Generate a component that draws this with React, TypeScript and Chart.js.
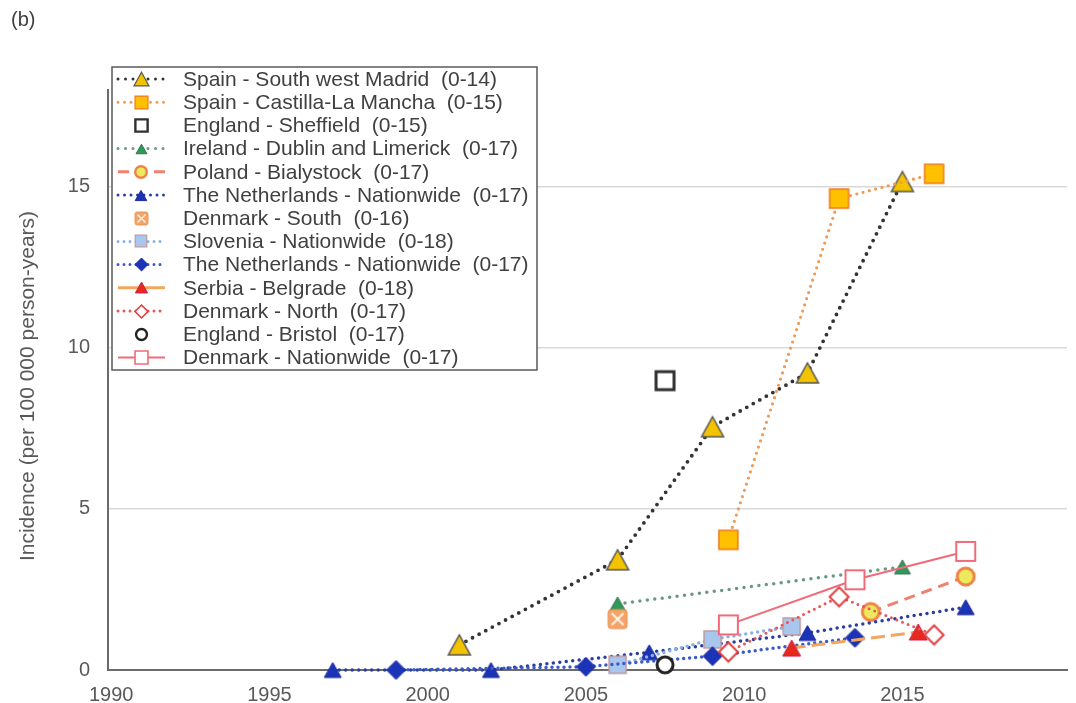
import React, { useEffect, useRef } from 'react';
import { Chart, registerables } from 'chart.js';

Chart.register(...registerables);

const FONT = '"Liberation Sans", Arial, Helvetica, sans-serif';

// Incidence per 100 000 person-years, by calendar year of each study
const madridYears = [2001, 2006, 2009, 2012, 2015];
const madridRates = [0.78, 3.42, 7.55, 9.22, 15.16];

const castillaYears = [2009.5, 2013, 2016];
const castillaRates = [4.04, 14.63, 15.4];

const sheffieldYears = [2007.5];
const sheffieldRates = [8.98];

const irelandYears = [2006, 2015];
const irelandRates = [2.05, 3.2];

const polandYears = [2014, 2017];
const polandRates = [1.8, 2.9];

const nlTriYears = [1997, 2002, 2007, 2012, 2017];
const nlTriRates = [0, 0, 0.55, 1.15, 1.95];

const dkSouthYears = [2006];
const dkSouthRates = [1.58];

const sloveniaYears = [2006, 2009, 2011.5];
const sloveniaRates = [0.16, 0.95, 1.35];

const nlDiaYears = [1999, 2005, 2009, 2013.5];
const nlDiaRates = [0, 0.1, 0.43, 1.0];

const serbiaYears = [2011.5, 2015.5];
const serbiaRates = [0.68, 1.18];

const dkNorthYears = [2009.5, 2013, 2016];
const dkNorthRates = [0.56, 2.27, 1.09];

const bristolYears = [2007.5];
const bristolRates = [0.16];

const dkNatYears = [2009.5, 2013.5, 2017];
const dkNatRates = [1.4, 2.8, 3.68];

const seriesLabels = [
  'Spain - South west Madrid  (0-14)',
  'Spain - Castilla-La Mancha  (0-15)',
  'England - Sheffield  (0-15)',
  'Ireland - Dublin and Limerick  (0-17)',
  'Poland - Bialystock  (0-17)',
  'The Netherlands - Nationwide  (0-17)',
  'Denmark - South  (0-16)',
  'Slovenia - Nationwide  (0-18)',
  'The Netherlands - Nationwide  (0-17)',
  'Serbia - Belgrade  (0-18)',
  'Denmark - North  (0-17)',
  'England - Bristol  (0-17)',
  'Denmark - Nationwide  (0-17)',
];

const seriesYears = [
  madridYears, castillaYears, sheffieldYears, irelandYears, polandYears, nlTriYears,
  dkSouthYears, sloveniaYears, nlDiaYears, serbiaYears, dkNorthYears, bristolYears, dkNatYears,
];
const seriesRates = [
  madridRates, castillaRates, sheffieldRates, irelandRates, polandRates, nlTriRates,
  dkSouthRates, sloveniaRates, nlDiaRates, serbiaRates, dkNorthRates, bristolRates, dkNatRates,
];

const xTickValues = [1990, 1995, 2000, 2005, 2010, 2015];
const yTickValues = [0, 5, 10, 15];
const yTitle = 'Incidence (per 100 000 person-years)';
const panelTag = '(b)';

type Shape = 'triangle' | 'square' | 'diamond' | 'circle' | 'boxX';
interface MarkerSpec { shape: Shape; w: number; h: number; fill: string; stroke: string; lw: number; }
interface LineSpec { color: string; width: number; dash: number[]; cap: CanvasLineCap; legendDash?: number[]; }

const markerSpecs: MarkerSpec[] = [
  { shape: 'triangle', w: 22, h: 20, fill: '#f4c300', stroke: '#555555', lw: 1.5 },
  { shape: 'square', w: 19, h: 19, fill: '#ffc000', stroke: '#f07a1e', lw: 1.5 },
  { shape: 'square', w: 18, h: 18, fill: '#ffffff', stroke: '#303030', lw: 3 },
  { shape: 'triangle', w: 16, h: 14, fill: '#2e9a5c', stroke: '#3d6e52', lw: 1 },
  { shape: 'circle', w: 17, h: 17, fill: '#ecea5c', stroke: '#f08248', lw: 3 },
  { shape: 'triangle', w: 17, h: 15, fill: '#1b33b6', stroke: '#1b2a9a', lw: 1 },
  { shape: 'boxX', w: 19, h: 19, fill: '#f4a469', stroke: '#ec9455', lw: 1 },
  { shape: 'square', w: 17, h: 17, fill: '#a9c7ee', stroke: '#c09aa0', lw: 1.5 },
  { shape: 'diamond', w: 19, h: 19, fill: '#1b33b6', stroke: '#1b2a9a', lw: 1 },
  { shape: 'triangle', w: 18, h: 16, fill: '#e8281e', stroke: '#c4204a', lw: 1 },
  { shape: 'diamond', w: 19, h: 19, fill: '#ffffff', stroke: '#e23c3c', lw: 2 },
  { shape: 'circle', w: 16, h: 16, fill: '#ffffff', stroke: '#222222', lw: 3 },
  { shape: 'square', w: 19, h: 19, fill: '#ffffff', stroke: '#f26a78', lw: 2 },
];

const lineSpecs: (LineSpec | null)[] = [
  { color: '#333333', width: 3.8, dash: [0, 7.5], cap: 'round' },
  { color: '#f39a52', width: 3.2, dash: [0, 6.5], cap: 'round' },
  null,
  { color: '#6a9884', width: 3.5, dash: [0, 7.5], cap: 'round' },
  { color: '#f08070', width: 3, dash: [11, 7], cap: 'butt' },
  { color: '#2b3d9e', width: 3.5, dash: [0, 6.5], cap: 'round' },
  null,
  { color: '#8db0e4', width: 3.5, dash: [0, 6], cap: 'round' },
  { color: '#3b5bc4', width: 3.5, dash: [0, 6], cap: 'round' },
  { color: '#f2a65e', width: 3, dash: [14, 6], cap: 'butt', legendDash: [] },
  { color: '#e4575a', width: 3, dash: [0, 6], cap: 'round' },
  null,
  { color: '#f06a78', width: 2, dash: [], cap: 'butt' },
];

function makeMarker(spec: MarkerSpec, scale: number): HTMLCanvasElement {
  const w = spec.w * scale;
  const h = spec.h * scale;
  const lw = Math.max(1, spec.lw * (scale < 1 ? 0.8 : 1));
  const pad = Math.ceil(lw * 1.5) + 1;
  const cw = Math.ceil(w) + pad * 2;
  const ch = Math.ceil(h) + pad * 2;
  const c = document.createElement('canvas');
  c.width = cw;
  c.height = ch;
  const g = c.getContext('2d')!;
  const cx = cw / 2;
  const cy = ch / 2;
  g.beginPath();
  switch (spec.shape) {
    case 'triangle':
      g.moveTo(cx, cy - h / 2);
      g.lineTo(cx + w / 2, cy + h / 2);
      g.lineTo(cx - w / 2, cy + h / 2);
      g.closePath();
      break;
    case 'square':
      g.rect(cx - w / 2, cy - h / 2, w, h);
      break;
    case 'diamond':
      g.moveTo(cx, cy - h / 2);
      g.lineTo(cx + w / 2, cy);
      g.lineTo(cx, cy + h / 2);
      g.lineTo(cx - w / 2, cy);
      g.closePath();
      break;
    case 'circle':
      g.arc(cx, cy, w / 2, 0, Math.PI * 2);
      break;
    case 'boxX': {
      const r = 3 * scale;
      const l = cx - w / 2, t = cy - h / 2, rr = cx + w / 2, b = cy + h / 2;
      g.moveTo(l + r, t);
      g.lineTo(rr - r, t);
      g.arcTo(rr, t, rr, t + r, r);
      g.lineTo(rr, b - r);
      g.arcTo(rr, b, rr - r, b, r);
      g.lineTo(l + r, b);
      g.arcTo(l, b, l, b - r, r);
      g.lineTo(l, t + r);
      g.arcTo(l, t, l + r, t, r);
      g.closePath();
      break;
    }
  }
  g.fillStyle = spec.fill;
  g.fill();
  g.lineWidth = lw;
  g.strokeStyle = spec.stroke;
  g.lineJoin = 'miter';
  g.stroke();
  if (spec.shape === 'boxX') {
    const d = w * 0.28;
    g.beginPath();
    g.moveTo(cx - d, cy - d);
    g.lineTo(cx + d, cy + d);
    g.moveTo(cx + d, cy - d);
    g.lineTo(cx - d, cy + d);
    g.strokeStyle = '#fff3e8';
    g.lineWidth = 2 * Math.max(scale, 0.7);
    g.lineCap = 'round';
    g.stroke();
  }
  return c;
}

export default function App() {
  const canvasRef = useRef<HTMLCanvasElement>(null);

  useEffect(() => {
    const canvas = canvasRef.current;
    if (!canvas) return;

    const plotMarkers = markerSpecs.map((s) => makeMarker(s, 1));
    const legendMarkers = markerSpecs.map((s) => makeMarker(s, 0.68));

    const datasets = seriesLabels.map((label, i) => {
      const line = lineSpecs[i];
      const xs = seriesYears[i];
      const ys = seriesRates[i];
      return {
        label,
        data: xs.map((x, k) => ({ x, y: ys[k] })),
        showLine: !!line,
        borderColor: line ? line.color : 'rgba(0,0,0,0)',
        borderWidth: line ? line.width : 0,
        borderDash: line ? line.dash : [],
        borderCapStyle: line ? line.cap : 'butt',
        pointStyle: plotMarkers[i],
        pointRadius: 9,
        pointHoverRadius: 9,
        pointBorderWidth: 0,
        tension: 0,
        clip: false,
        order: seriesLabels.length - i,
      };
    });

    const decorations = {
      id: 'decorations',
      afterDraw(chart: Chart) {
        const ctx = chart.ctx;
        ctx.save();

        // panel tag
        ctx.fillStyle = '#404040';
        ctx.font = `20px ${FONT}`;
        ctx.textAlign = 'left';
        ctx.textBaseline = 'middle';
        ctx.fillText(panelTag, 11, 20);

        // vertical axis title
        ctx.save();
        ctx.translate(28, 386);
        ctx.rotate(-Math.PI / 2);
        ctx.textAlign = 'center';
        ctx.textBaseline = 'middle';
        ctx.font = `21px ${FONT}`;
        ctx.fillStyle = '#595959';
        ctx.fillText(yTitle, 0, 0);
        ctx.restore();

        // legend box
        const bx = 112, by = 67, bw = 425, bh = 303;
        ctx.fillStyle = '#ffffff';
        ctx.fillRect(bx, by, bw, bh);
        ctx.strokeStyle = '#5a5a5a';
        ctx.lineWidth = 1.5;
        ctx.strokeRect(bx, by, bw, bh);

        const rowH = 23.2;
        seriesLabels.forEach((label, i) => {
          const y = 79 + i * rowH;
          const line = lineSpecs[i];
          if (line) {
            ctx.save();
            ctx.beginPath();
            ctx.strokeStyle = line.color;
            ctx.lineWidth = Math.min(line.width, 3);
            ctx.lineCap = line.cap;
            ctx.setLineDash(line.legendDash ?? line.dash);
            ctx.moveTo(118, y);
            ctx.lineTo(165, y);
            ctx.stroke();
            ctx.restore();
          }
          const m = legendMarkers[i];
          ctx.drawImage(m, Math.round(141 - m.width / 2), Math.round(y - m.height / 2));
          ctx.fillStyle = '#404040';
          ctx.font = `21px ${FONT}`;
          ctx.textAlign = 'left';
          ctx.textBaseline = 'middle';
          ctx.fillText(label, 183, y + 1);
        });

        ctx.restore();
      },
    };

    const chart = new Chart(canvas, {
      type: 'scatter',
      data: { datasets: datasets as any },
      options: {
        responsive: false,
        animation: false,
        devicePixelRatio: 1,
        layout: { padding: { top: 90, right: 0, bottom: 0, left: 0 } },
        plugins: {
          legend: { display: false },
          tooltip: { enabled: false },
        },
        scales: {
          x: {
            type: 'linear',
            min: 1989.9,
            max: 2020.2,
            afterBuildTicks: (s: any) => {
              s.ticks = xTickValues.map((v) => ({ value: v }));
            },
            afterFit: (s: any) => {
              s.height = 33;
            },
            grid: { display: false, drawTicks: false },
            border: { display: true, color: '#6b6b6b', width: 2 },
            ticks: {
              color: '#595959',
              font: { family: FONT, size: 20 },
              padding: 13,
              maxRotation: 0,
              autoSkip: false,
              callback: (v: any) => String(v),
            },
          },
          y: {
            type: 'linear',
            min: 0,
            max: 18,
            afterBuildTicks: (s: any) => {
              s.ticks = yTickValues.map((v) => ({ value: v }));
            },
            afterFit: (s: any) => {
              s.width = 108;
            },
            grid: {
              color: (c: any) => (c.tick && c.tick.value === 0 ? 'rgba(0,0,0,0)' : '#d9d9d9'),
              lineWidth: 1.5,
              drawTicks: false,
            },
            border: { display: true, color: '#6b6b6b', width: 2 },
            ticks: {
              color: '#595959',
              font: { family: FONT, size: 20 },
              padding: 18,
              callback: (v: any) => String(v),
            },
          },
        },
      },
      plugins: [decorations],
    });

    return () => chart.destroy();
  }, []);

  return (
    <div style={{ position: 'absolute', left: 0, top: 0, width: 1076, height: 703, background: '#ffffff' }}>
      <canvas ref={canvasRef} width={1076} height={703} style={{ display: 'block', width: 1076, height: 703 }} />
    </div>
  );
}
